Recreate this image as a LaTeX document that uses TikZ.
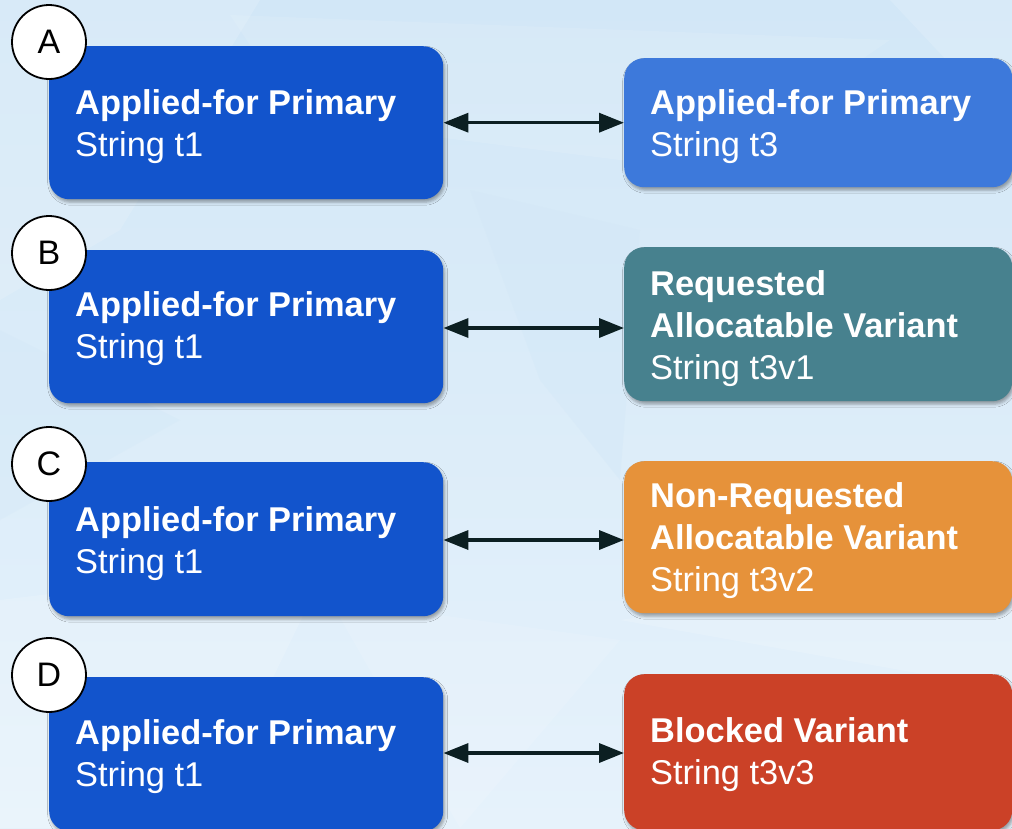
\documentclass[tikz,border=0pt]{standalone}
\usepackage{fontspec}
\setmainfont{Liberation Sans}
\usetikzlibrary{arrows.meta,shadows.blur}

\definecolor{bgtop}{HTML}{D2E7F7}
\definecolor{bgbot}{HTML}{E6F2FB}
\definecolor{primblue}{HTML}{1254CC}
\definecolor{lightprim}{HTML}{3D79DB}
\definecolor{reqteal}{HTML}{47818E}
\definecolor{nonreqorange}{HTML}{E6923A}
\definecolor{blockedred}{HTML}{CB4127}
\definecolor{arrowink}{HTML}{0C1F22}

\tikzset{
  card/.style={rounded corners=20pt, inner sep=0pt, anchor=north west,
    blur shadow={shadow xshift=1.5pt, shadow yshift=-3pt,
      shadow blur radius=3pt, shadow opacity=35}},
  leftcard/.style={card, fill=primblue, minimum width=394pt},
  rightcard/.style={card, minimum width=388pt},
  cardtext/.style={text=white, inner sep=0pt, anchor=north west, align=left,
    font={\fontsize{34.4pt}{42pt}\selectfont}},
  badge/.style={circle, draw=black, line width=1.8pt, fill=white,
    minimum size=74pt, inner sep=0pt, font={\fontsize{34pt}{40pt}\selectfont}},
  link/.style={draw=arrowink, line width=3.5pt,
    {Triangle[length=25pt,width=19pt]}-{Triangle[length=25pt,width=19pt]}}
}
% fixed first-line height so the text node's top sits 26pt above the baseline
\newcommand{\firstline}{\rule{0pt}{26pt}}

\begin{document}
\begin{tikzpicture}[x=1pt,y=-1pt]
  \useasboundingbox (0,0) rectangle (1012,828);

  % faceted pale-blue backdrop
  \shade[top color=bgtop, bottom color=bgbot] (0,0) rectangle (1012,828);
  \fill[white, opacity=0.14] (0,0) -- (260,0) -- (120,230) -- (0,300) -- cycle;
  \fill[white, opacity=0.10] (230,15) -- (890,40) -- (700,170) -- (300,120) -- cycle;
  \fill[white, opacity=0.14] (890,0) -- (1012,0) -- (1012,130) -- cycle;
  \fill[bgtop, opacity=0.40] (470,190) -- (640,230) -- (620,480) -- (540,380) -- cycle;
  \fill[white, opacity=0.16] (0,600) -- (330,560) -- (200,828) -- (0,828) -- cycle;
  \fill[white, opacity=0.12] (330,600) -- (620,640) -- (460,828) -- cycle;
  \fill[bgtop, opacity=0.30] (0,330) -- (180,420) -- (0,520) -- cycle;
  \fill[white, opacity=0.14] (620,620) -- (1012,560) -- (1012,690) -- cycle;

  % row A
  \node[leftcard, minimum height=153pt] (a1) at (49,46) {};
  \node[rightcard, fill=lightprim, minimum height=129pt] (a2) at (624,58) {};
  \node[cardtext] (a1t) at (75,88) {\firstline\textbf{Applied-for Primary}\\String t1};
  \node[cardtext] (a2t) at (650,88) {\firstline\textbf{Applied-for Primary}\\String t3};
  \draw[link] (a1.east) -- (a2.west |- a1.east);
  \node[badge] (la) at (49,42) {A};

  % row B
  \node[leftcard, minimum height=153pt] (b1) at (49,250) {};
  \node[rightcard, fill=reqteal, minimum height=154pt] (b2) at (624,247) {};
  \node[cardtext] (b1t) at (75,290) {\firstline\textbf{Applied-for Primary}\\String t1};
  \node[cardtext] (b2t) at (650,269) {\firstline\textbf{Requested}\\\textbf{Allocatable Variant}\\String t3v1};
  \coordinate (bmid) at (0,328);
  \draw[link] (b1.east |- bmid) -- (b2.west |- bmid);
  \node[badge] (lb) at (49,253) {B};

  % row C
  \node[leftcard, minimum height=154pt] (c1) at (49,462) {};
  \node[rightcard, fill=nonreqorange, minimum height=152pt] (c2) at (624,461) {};
  \node[cardtext] (c1t) at (75,505) {\firstline\textbf{Applied-for Primary}\\String t1};
  \node[cardtext] (c2t) at (650,481) {\firstline\textbf{Non-Requested}\\\textbf{Allocatable Variant}\\String t3v2};
  \coordinate (cmid) at (0,540);
  \draw[link] (c1.east |- cmid) -- (c2.west |- cmid);
  \node[badge] (lc) at (49,464) {C};

  % row D
  \node[leftcard, minimum height=154pt] (d1) at (49,677) {};
  \node[rightcard, fill=blockedred, minimum height=156pt] (d2) at (624,674) {};
  \node[cardtext] (d1t) at (75,718) {\firstline\textbf{Applied-for Primary}\\String t1};
  \node[cardtext] (d2t) at (650,716) {\firstline\textbf{Blocked Variant}\\String t3v3};
  \coordinate (dmid) at (0,753);
  \draw[link] (d1.east |- dmid) -- (d2.west |- dmid);
  \node[badge] (ld) at (49,675) {D};
\end{tikzpicture}
\end{document}
